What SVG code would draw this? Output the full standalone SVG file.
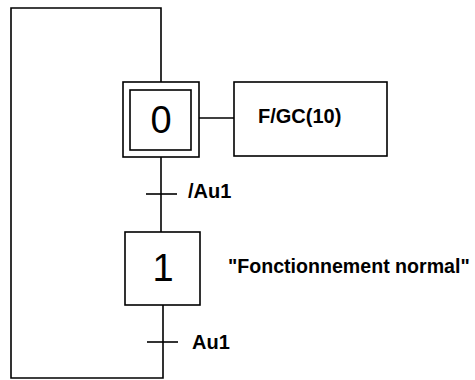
<svg xmlns="http://www.w3.org/2000/svg" width="475" height="380" viewBox="0 0 475 380">
<style>
.ln{stroke:#000;stroke-width:1.6;fill:none}
.bx{stroke:#000;stroke-width:1.6;fill:#fff}
.num{font-family:"Liberation Sans",Arial,sans-serif;font-size:38px;text-anchor:middle;fill:#000}
.lbl{font-family:"Liberation Sans",Arial,sans-serif;font-size:20px;font-weight:bold;fill:#000}
</style>
<g id="connectors">
<polyline class="ln" points="161,82 161,8 11,8 11,378 163,378 163,305"/>
<line class="ln" x1="161" y1="157" x2="161" y2="232"/>
<line class="ln" x1="199" y1="118" x2="234" y2="118"/>
<line class="ln" x1="146" y1="194" x2="177" y2="194"/>
<line class="ln" x1="147" y1="342" x2="178" y2="342"/>
</g>
<g id="step0">
<rect class="bx" x="123" y="82" width="76" height="75"/>
<rect class="bx" x="130" y="90" width="61" height="60"/>
<text class="num" x="161" y="133">0</text>
</g>
<g id="action0">
<rect class="bx" x="234" y="82" width="153" height="74"/>
<text class="lbl" x="258" y="123">F/GC(10)</text>
</g>
<g id="step1">
<rect class="bx" x="125" y="232" width="75" height="73"/>
<text class="num" x="163" y="281">1</text>
</g>
<g id="t1"><text class="lbl" x="188" y="198">/Au1</text></g>
<g id="t2"><text class="lbl" x="192" y="349">Au1</text></g>
<g id="action1"><text class="lbl" x="228" y="273" style="font-size:19.6px">"Fonctionnement normal"</text></g>
</svg>
